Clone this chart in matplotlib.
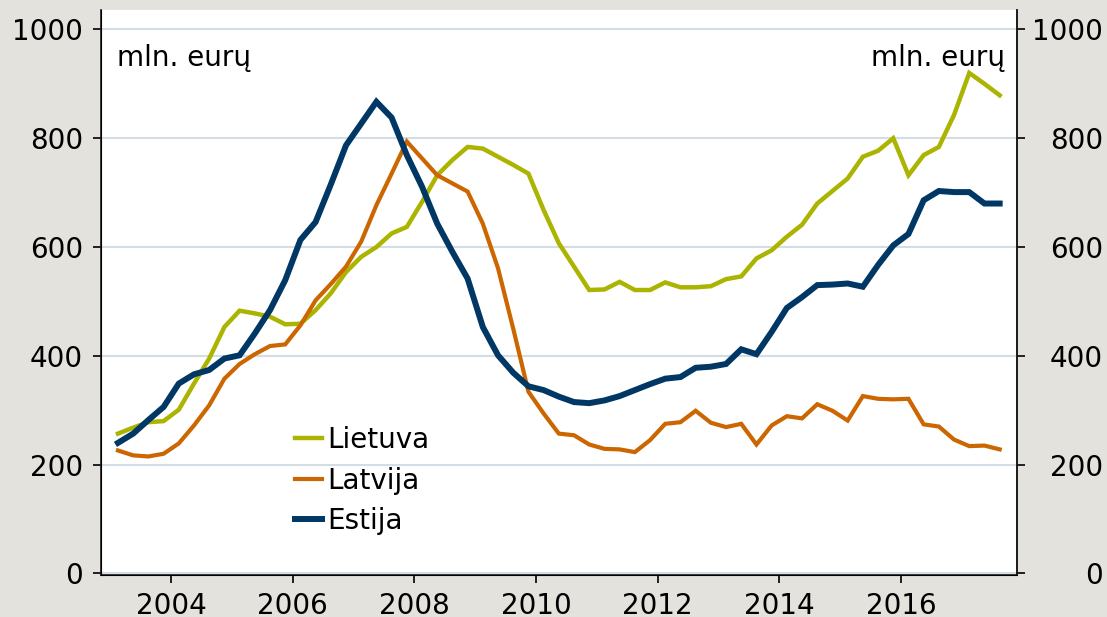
import matplotlib
matplotlib.use("Agg")
import matplotlib.pyplot as plt
import numpy as np

# quarterly data, 2003Q1 .. 2017Q3 (plotted at quarter midpoints)
START_YEAR = 2003
N_QUARTERS = 59

lietuva = [
    257, 268, 278, 280, 301, 349, 395, 453, 483, 478,
    472, 458, 459, 484, 515, 554, 582, 600, 625, 637,
    683, 732, 760, 784, 781, 766, 751, 735, 668, 607,
    564, 521, 522, 536, 521, 521, 535, 526, 526, 528,
    541, 546, 579, 594, 619, 641, 680, 703, 726, 766,
    777, 800, 732, 769, 784, 843, 920, 900, 879,
]
latvija = [
    226, 217, 215, 220, 239, 272, 309, 358, 385, 403,
    418, 421, 456, 502, 532, 564, 610, 677, 735, 794,
    763, 732, 717, 702, 643, 561, 450, 334, 294, 257,
    254, 237, 229, 228, 223, 245, 275, 278, 299, 277,
    269, 275, 237, 272, 289, 285, 311, 299, 281, 326,
    321, 320, 321, 274, 270, 246, 234, 235, 228,
]
estija = [
    240, 257, 282, 306, 349, 366, 374, 395, 401, 441,
    484, 539, 613, 646, 715, 787, 827, 867, 838, 769,
    711, 643, 591, 542, 453, 401, 369, 344, 337, 325,
    315, 313, 318, 326, 337, 348, 358, 361, 378, 380,
    385, 412, 403, 444, 488, 508, 530, 531, 533, 527,
    567, 603, 624, 686, 703, 701, 701, 680, 680,
]

series_names = ["Lietuva", "Latvija", "Estija"]
year_ticks = [2004, 2006, 2008, 2010, 2012, 2014, 2016]
y_ticks = [0, 200, 400, 600, 800, 1000]
unit_label = "mln. eurų"

BG = "#e3e2dc"
COLORS = {"Lietuva": "#abb400", "Latvija": "#cc6600", "Estija": "#003764"}
WIDTHS = {"Lietuva": 3.2, "Latvija": 3.0, "Estija": 4.3}

plt.rcParams["font.family"] = ["DejaVu Sans"]
plt.rcParams["font.size"] = 20

x = START_YEAR + 0.125 + 0.25 * np.arange(N_QUARTERS)

fig = plt.figure(figsize=(11.07, 6.17), dpi=100, facecolor=BG)
ax = fig.add_axes([0.0912, 0.068, 0.8275, 0.916])
ax.set_facecolor("white")

for name, vals in zip(series_names, [lietuva, latvija, estija]):
    ax.plot(x, vals, color=COLORS[name], lw=WIDTHS[name], label=name,
            solid_joinstyle="miter", zorder=3)

ax.set_xlim(2002.845, 2017.91)
ax.set_ylim(-3, 1036)
ax.set_yticks(y_ticks)
ax.set_xticks(year_ticks)
ax.yaxis.grid(True, color="#d3dde5", lw=1.5)
ax.set_axisbelow(True)

ax.spines["top"].set_visible(False)
for side in ["left", "bottom", "right"]:
    ax.spines[side].set_linewidth(1.2)
    ax.spines[side].set_color("#1a1a1a")

ax.tick_params(axis="y", direction="out", length=5.8, width=1.2, pad=7)
ax.tick_params(axis="x", direction="out", length=5.8, width=1.2, pad=6.5)

ax2 = ax.twinx()
ax2.set_ylim(ax.get_ylim())
ax2.set_yticks(y_ticks)
ax2.spines["top"].set_visible(False)
ax2.spines["right"].set_linewidth(1.2)
ax2.spines["right"].set_color("#1a1a1a")
ax2.tick_params(axis="y", direction="out", length=5.8, width=1.2, pad=56)
for lab in ax2.get_yticklabels():
    lab.set_horizontalalignment("right")

ax.text(0.0175, 0.915, unit_label, transform=ax.transAxes, ha="left", va="center")
ax.text(0.987, 0.915, unit_label, transform=ax.transAxes, ha="right", va="center")

leg = ax.legend(loc="upper left", bbox_to_anchor=(0.2, 0.283), frameon=False,
                handlelength=0.95, handletextpad=0.2, labelspacing=0.45,
                borderaxespad=0)

fig.savefig("out.png", dpi=100, facecolor=BG)
